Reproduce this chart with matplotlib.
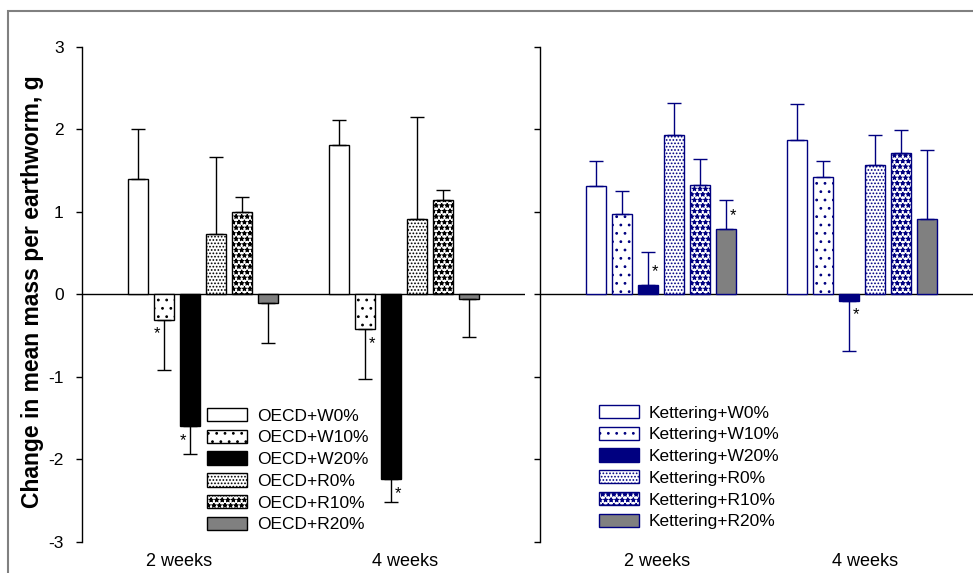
import numpy as np
import matplotlib
matplotlib.use("Agg")
import matplotlib.pyplot as plt
from matplotlib.patches import Rectangle

plt.rcParams['font.family'] = ['Liberation Sans', 'DejaVu Sans']
plt.rcParams['axes.unicode_minus'] = False
plt.rcParams['hatch.linewidth'] = 0.8

weeks = ['2 weeks', '4 weeks']
treatments = ['W0%', 'W10%', 'W20%', 'R0%', 'R10%', 'R20%']

# mean change in mass (g) per treatment, values for [2 weeks, 4 weeks]
oecd_mean = [[1.40, 1.81], [-0.31, -0.42], [-1.60, -2.24],
             [0.73, 0.91], [1.00, 1.14], [-0.10, -0.05]]
oecd_err = [[0.61, 0.31], [0.60, 0.61], [0.33, 0.27],
            [0.94, 1.24], [0.18, 0.13], [0.49, 0.46]]
kett_mean = [[1.31, 1.87], [0.97, 1.43], [0.11, -0.08],
             [1.93, 1.57], [1.33, 1.71], [0.79, 0.91]]
kett_err = [[0.31, 0.44], [0.28, 0.19], [0.40, 0.61],
            [0.39, 0.36], [0.31, 0.28], [0.35, 0.84]]

# significant differences: (week, treatment, side of the asterisk)
oecd_sig = [(0, 1, -1), (0, 2, -1), (1, 1, 1), (1, 2, 1)]
kett_sig = [(0, 2, 1), (0, 5, 1), (1, 2, 1)]

navy = '#000080'
grey = '#808080'
hatches = ['', '..', '', '.....', '***', '']

fig = plt.figure(figsize=(9.73, 5.73), dpi=100)
ax1 = fig.add_axes([0.0843, 0.0541, 0.4553, 0.8639])
ax2 = fig.add_axes([0.555, 0.0541, 0.4553, 0.8639])

pitch = 0.1294
width = 0.097


def panel(ax, means, errs, sig, prefix, color, w20, label_x, leg_xy):
    means = np.array(means)
    errs = np.array(errs)
    fills = ['white', 'white', w20, 'white', 'white', grey]
    x0 = np.arange(len(weeks))
    for i, name in enumerate(treatments):
        x = x0 + (i - 2.5) * pitch
        ax.bar(x, means[i], width, color=fills[i], edgecolor=color,
               hatch=hatches[i], linewidth=1.0, label=prefix + name, zorder=2)
        lo = np.where(means[i] < 0, errs[i], 0)
        hi = np.where(means[i] >= 0, errs[i], 0)
        ax.errorbar(x, means[i], yerr=[lo, hi], fmt='none', ecolor=color,
                    elinewidth=1.0, capsize=5, capthick=1.0, zorder=3)
    for w, i, side in sig:
        x = w + (i - 2.5) * pitch + side * 0.035
        v = means[i, w]
        ax.text(x, v + np.sign(v) * 0.17, '*', fontsize=12,
                ha='center', va='center', zorder=4)

    ax.axhline(0, color='black', lw=1.0, zorder=1)
    ax.set_xlim(-0.602, 1.602)
    ax.set_ylim(-3, 3)
    ax.set_yticks(range(-3, 4))
    ax.set_xticks(x0 + np.array(label_x))
    ax.set_xticklabels(weeks)
    ax.tick_params(axis='x', length=0, labelsize=13, pad=8)
    ax.tick_params(axis='y', direction='out', length=4.3, width=1.0,
                   labelsize=12.5, pad=9)
    for s in ['top', 'right', 'bottom']:
        ax.spines[s].set_visible(False)
    ax.spines['left'].set_linewidth(1.0)
    ax.spines['left'].set_bounds(-3, 3)
    ax.legend(loc='upper left', bbox_to_anchor=leg_xy,
              bbox_transform=fig.transFigure, frameon=False, fontsize=12.5,
              handlelength=2.3, handleheight=0.8, handletextpad=0.58,
              labelspacing=0.35, borderpad=0, borderaxespad=0)


panel(ax1, oecd_mean, oecd_err, oecd_sig, 'OECD+', 'black', 'black',
      [-0.117, 0.005], (0.2127, 0.2880))
panel(ax2, kett_mean, kett_err, kett_sig, 'Kettering+', navy, navy,
      [-0.022, 0.015], (0.6156, 0.2933))
ax2.set_yticklabels([])

ax1.set_ylabel('Change in mean mass per earthworm, g', fontsize=16.5,
               fontweight='bold')
ax1.yaxis.set_label_coords(-0.086, 0.506)

fig.add_artist(Rectangle((0.0087, -0.2), 1.5, 1.18, transform=fig.transFigure,
                         fill=False, edgecolor=grey, lw=1.5, clip_on=False))

fig.savefig('out.png', dpi=100)
